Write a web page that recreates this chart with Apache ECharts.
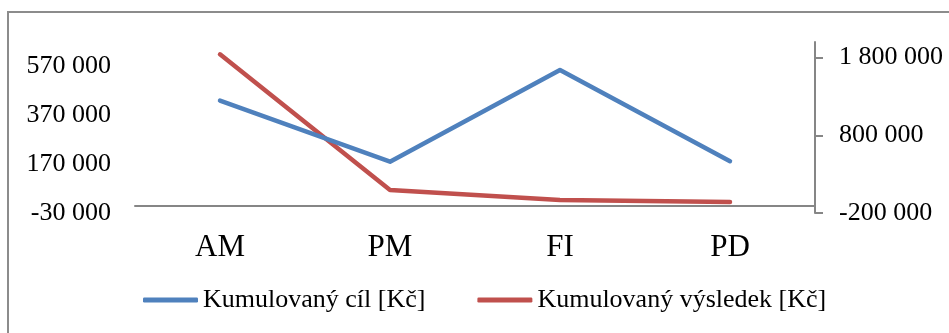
<!DOCTYPE html>
<html>
<head>
<meta charset="utf-8">
<script src="https://cdn.jsdelivr.net/npm/echarts@6/dist/echarts.min.js"></script>
<style>
  html, body { margin: 0; padding: 0; background: #fff; }
  #chart { width: 949px; height: 333px; }
</style>
</head>
<body>
<div id="chart"></div>
<script>
// Categories and series values
const categories = ['AM', 'PM', 'FI', 'PD'];
const targetValues = [430000, 180000, 555000, 182000];     // Kumulovaný cíl [Kč] (left axis)
const resultValues = [1842000, 95000, -33000, -59000];     // Kumulovaný výsledek [Kč] (right axis)

// Axis ranges and tick labels
const leftRange = [-30000, 670000];
const leftTicks = [-30000, 170000, 370000, 570000];
const rightRange = [-200000, 2000000];
const rightTicks = [-200000, 800000, 1800000];

const seriesNames = ['Kumulovaný cíl [Kč]', 'Kumulovaný výsledek [Kč]'];

const FONT = '"Liberation Serif", "Times New Roman", serif';
const AXIS_GRAY = '#868686';

function fmt(v) {
  const s = Math.abs(Math.round(v)).toString().replace(/\B(?=(\d{3})+(?!\d))/g, ' ');
  return (v < 0 ? '-' : '') + s;
}

const chart = echarts.init(document.getElementById('chart'));
chart.setOption({
  animation: false,
  backgroundColor: '#fff',
  textStyle: { fontFamily: FONT, color: '#000' },
  graphic: [{
    type: 'rect',
    shape: { x: 8, y: 12, width: 960, height: 340 },
    style: { fill: 'none', stroke: '#8c8c8c', lineWidth: 2 },
    silent: true
  }],
  grid: { left: 135, right: 134, top: 42, bottom: 120 },
  legend: {
    left: 138,
    top: 282,
    itemWidth: 55,
    itemHeight: 5,
    itemGap: 52,
    icon: 'roundRect',
    textStyle: { fontFamily: FONT, fontSize: 26, color: '#000' },
    data: seriesNames
  },
  xAxis: {
    type: 'category',
    data: categories,
    boundaryGap: true,
    axisLine: { show: true, onZero: true, lineStyle: { color: AXIS_GRAY, width: 2 } },
    axisTick: { show: false },
    axisLabel: { fontFamily: FONT, fontSize: 31, color: '#000', margin: 19 },
    splitLine: { show: false }
  },
  yAxis: [{
    type: 'value',
    position: 'left',
    min: leftRange[0],
    max: leftRange[1],
    axisLine: { show: false },
    axisTick: { show: false },
    splitLine: { show: false },
    axisLabel: {
      customValues: leftTicks,
      fontFamily: FONT, fontSize: 26, color: '#000', margin: 24,
      formatter: fmt
    }
  }, {
    type: 'value',
    position: 'right',
    min: rightRange[0],
    max: rightRange[1],
    axisLine: { show: true, lineStyle: { color: AXIS_GRAY, width: 2 } },
    axisTick: { show: true, customValues: rightTicks, length: 8, inside: false, lineStyle: { color: AXIS_GRAY, width: 2 } },
    splitLine: { show: false },
    axisLabel: {
      customValues: rightTicks,
      fontFamily: FONT, fontSize: 26, color: '#000', margin: 24,
      formatter: fmt
    }
  }],
  series: [{
    name: seriesNames[0],
    type: 'line',
    yAxisIndex: 0,
    data: targetValues,
    symbol: 'none',
    lineStyle: { color: '#4F81BD', width: 4.5, cap: 'round', join: 'round' },
    itemStyle: { color: '#4F81BD' },
    z: 3
  }, {
    name: seriesNames[1],
    type: 'line',
    yAxisIndex: 1,
    data: resultValues,
    symbol: 'none',
    lineStyle: { color: '#C0504D', width: 4.5, cap: 'round', join: 'round' },
    itemStyle: { color: '#C0504D' },
    z: 2
  }]
});
</script>
</body>
</html>
